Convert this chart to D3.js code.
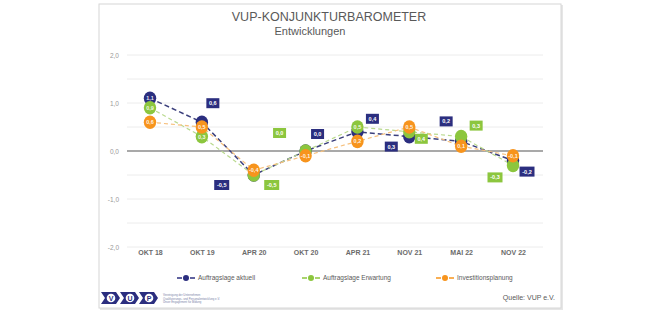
<!DOCTYPE html>
<html>
<head>
<meta charset="utf-8">
<script src="https://cdn.jsdelivr.net/npm/d3@7"></script>
<style>
  html, body { margin: 0; padding: 0; background: #fff; }
  svg { display: block; font-family: "Liberation Sans", Arial, sans-serif; }
</style>
</head>
<body>
<div id="chart"></div>
<script>
// data
const categories = ["OKT 18", "OKT 19", "APR 20", "OKT 20", "APR 21", "NOV 21", "MAI 22", "NOV 22"];
const aktuell = [1.1, 0.6, -0.5, 0.0, 0.4, 0.3, 0.2, -0.2];
const erwartung = [0.9, 0.3, -0.5, 0.0, 0.5, 0.4, 0.3, -0.3];
const investition = [0.6, 0.5, -0.4, -0.1, 0.2, 0.5, 0.1, -0.1];
const seriesNames = ["Auftragslage aktuell", "Auftragslage Erwartung", "Investitionsplanung"];
const yTicks = [2, 1, 0, -1, -2];

// label boxes: pixel shift from the point, null = label sits on the dot
const labelShift = [
  [null, [11, -19], [-32, 10], [12, -17], [15, -13], [-18, 10], [-15, -20], [14, 11]],
  [null, null, [18, 10], [-26, -18], null, [12, 7], [15, -11], [-18, 12]],
  [null, null, null, null, null, null, null, null]
];

const W = 660, H = 318;
const colors = ["#2b2e7f", "#8cc63e", "#f7941d"];
const lineColors = ["#3b3f7c", "#b9d98e", "#f6c07e"];
const dashes = ["5,3", "4,3", "4,3"];
const lineW = [1.5, 1.2, 1.2];

const de = d3.formatLocale({decimal: ",", thousands: ".", grouping: [3], currency: ["", " €"], minus: "-"});
const fmt = de.format(".1f");

const svg = d3.select("#chart").append("svg")
  .attr("width", W).attr("height", H);

// panel
svg.append("rect").attr("x", 100).attr("y", 5).attr("width", 463).attr("height", 305)
  .attr("fill", "#e6e6e6");
svg.append("rect").attr("x", 99).attr("y", 4).attr("width", 462).attr("height", 304)
  .attr("fill", "#fff").attr("stroke", "#d6d6d6").attr("stroke-width", 1);

svg.append("text").attr("x", 329).attr("y", 21).attr("text-anchor", "middle")
  .attr("font-size", 12.5).attr("fill", "#595959").text("VUP-KONJUNKTURBAROMETER");
svg.append("text").attr("x", 310).attr("y", 35).attr("text-anchor", "middle")
  .attr("font-size", 11).attr("fill", "#595959").text("Entwicklungen");

const x = d3.scalePoint().domain(categories).range([150, 513]);
const y = d3.scaleLinear().domain([-2, 2]).range([247, 55]);

// grid every 0.5
const grid = svg.append("g");
grid.selectAll("line").data(d3.range(-2, 2.01, 0.5)).enter().append("line")
  .attr("x1", 127).attr("x2", 543)
  .attr("y1", d => y(d)).attr("y2", d => y(d))
  .attr("stroke", d => d === 0 ? "#8c8c8c" : "#ececec")
  .attr("stroke-width", d => d === 0 ? 1.5 : 1);

// y axis labels
const yAxis = svg.append("g").attr("transform", "translate(119,0)")
  .call(d3.axisLeft(y).tickValues(yTicks).tickSize(0).tickPadding(0).tickFormat(fmt));
yAxis.select(".domain").remove();
yAxis.selectAll("text").attr("font-size", 6.5).attr("fill", "#999")
  .attr("font-family", "Liberation Sans, Arial, sans-serif");

// x axis labels
const xAxis = svg.append("g").attr("transform", "translate(0,250)")
  .call(d3.axisBottom(x).tickSize(0).tickPadding(0));
xAxis.select(".domain").remove();
xAxis.selectAll("text").attr("font-size", 7).attr("font-weight", "bold").attr("fill", "#6b6b6b")
  .attr("font-family", "Liberation Sans, Arial, sans-serif");

const allSeries = [aktuell, erwartung, investition];
const line = d3.line().x((d, i) => x(categories[i])).y(d => y(d));

allSeries.forEach((vals, s) => {
  svg.append("path").datum(vals)
    .attr("fill", "none")
    .attr("stroke", lineColors[s])
    .attr("stroke-width", lineW[s])
    .attr("stroke-dasharray", dashes[s])
    .attr("d", line);
});

allSeries.forEach((vals, s) => {
  const g = svg.append("g");
  g.selectAll("ellipse").data(vals).enter().append("ellipse")
    .attr("cx", (d, i) => x(categories[i]))
    .attr("cy", d => y(d))
    .attr("rx", 6.2).attr("ry", 6.8)
    .attr("fill", colors[s]);
});

// labels on dots and in boxes
allSeries.forEach((vals, s) => {
  const g = svg.append("g");
  vals.forEach((v, i) => {
    const cx = x(categories[i]), cy = y(v);
    const sh = labelShift[s][i];
    if (sh === null) {
      g.append("text").attr("x", cx).attr("y", cy + 2)
        .attr("text-anchor", "middle").attr("font-size", 5.5).attr("font-weight", "bold")
        .attr("fill", "#fff").attr("fill-opacity", 0.9).text(fmt(v));
    } else {
      const bx = cx + sh[0], by = cy + sh[1];
      const bw = v < 0 ? 15 : 13;
      g.append("rect").attr("x", bx - bw / 2).attr("y", by - 5)
        .attr("width", bw).attr("height", 10).attr("fill", colors[s]);
      g.append("text").attr("x", bx).attr("y", by + 2)
        .attr("text-anchor", "middle").attr("font-size", 5.5).attr("font-weight", "bold")
        .attr("fill", "#fff").text(fmt(v));
    }
  });
});

// legend
const legendX = [186, 311, 445];
const leg = svg.append("g");
seriesNames.forEach((name, s) => {
  const lx = legendX[s], ly = 278;
  leg.append("line").attr("x1", lx - 9).attr("x2", lx - 4).attr("y1", ly).attr("y2", ly)
    .attr("stroke", colors[s]).attr("stroke-width", 1.5);
  leg.append("line").attr("x1", lx + 4).attr("x2", lx + 9).attr("y1", ly).attr("y2", ly)
    .attr("stroke", colors[s]).attr("stroke-width", 1.5);
  leg.append("circle").attr("cx", lx).attr("cy", ly).attr("r", 3).attr("fill", colors[s]);
  leg.append("text").attr("x", lx + 12).attr("y", ly + 2.3)
    .attr("font-size", 6.5).attr("fill", "#595959").text(name);
});

// logo
const logo = svg.append("g").attr("transform", "translate(101,292)");
["V", "U", "P"].forEach((ch, i) => {
  const ox = i * 19;
  logo.append("path")
    .attr("d", `M${ox},0 L${ox + 15},0 L${ox + 19},6 L${ox + 15},12 L${ox},12 L${ox + 4},6 Z`)
    .attr("fill", "#2b2e7f");
  logo.append("circle").attr("cx", ox + 10).attr("cy", 6).attr("r", 4.3).attr("fill", "#fff");
  logo.append("text").attr("x", ox + 10).attr("y", 8.5).attr("text-anchor", "middle")
    .attr("font-size", 7).attr("font-weight", "bold").attr("fill", "#2b2e7f").text(ch);
});
const small = ["Vereinigung der Unternehmen", "Qualifizierungs- und Personalentwicklung e.V.", "Unser Engagement für Bildung"];
small.forEach((t, i) => {
  svg.append("text").attr("x", 163).attr("y", 296 + i * 3.5)
    .attr("font-size", 2.8).attr("fill", "#7b7fa8").text(t);
});

svg.append("text").attr("x", 555).attr("y", 300).attr("text-anchor", "end")
  .attr("font-size", 7).attr("fill", "#595959").text("Quelle: VUP e.V.");
</script>
</body>
</html>
